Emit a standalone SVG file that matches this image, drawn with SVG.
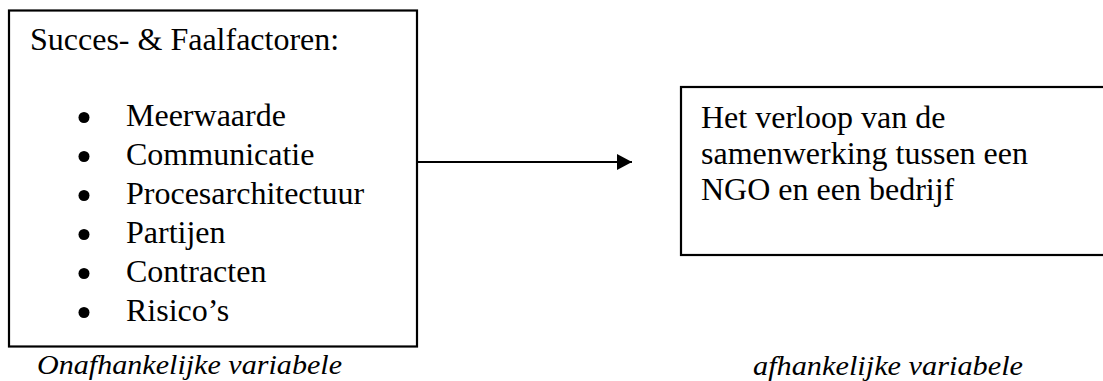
<svg xmlns="http://www.w3.org/2000/svg" width="1103" height="381" viewBox="0 0 1103 381">
<style>
.box{fill:#fff;stroke:#000;stroke-width:2.2}
.t{font-family:'Liberation Serif','Times New Roman',Times,'DejaVu Serif',serif;font-size:32px;fill:#000}
.lbl{font-family:'Liberation Serif','Times New Roman',Times,'DejaVu Serif',serif;font-style:italic;font-size:27px;fill:#000}
.bul{fill:#000}
.conn{stroke:#000;stroke-width:2;fill:none}
</style>
<defs>
<marker id="ah" markerWidth="15" markerHeight="16" refX="15" refY="8" orient="auto" markerUnits="userSpaceOnUse">
<polygon points="0,0 15,8 0,16" fill="#000"/>
</marker>
</defs>
<rect width="1103" height="381" fill="#fff"/>
<g id="connectors">
<line class="conn" x1="418" y1="162" x2="632" y2="162" marker-end="url(#ah)"/>
</g>
<g id="node-factoren">
<rect class="box" x="9" y="10.5" width="408" height="336"/>
<text class="t" x="30" y="50">Succes- &amp; Faalfactoren:</text>
<circle class="bul" cx="84" cy="117.5" r="5.5"/>
<circle class="bul" cx="84" cy="156.5" r="5.5"/>
<circle class="bul" cx="84" cy="195.5" r="5.5"/>
<circle class="bul" cx="84" cy="234.5" r="5.5"/>
<circle class="bul" cx="84" cy="273.5" r="5.5"/>
<circle class="bul" cx="84" cy="312.5" r="5.5"/>
<text class="t" x="126" y="126">Meerwaarde</text>
<text class="t" x="126" y="165">Communicatie</text>
<text class="t" x="126" y="204">Procesarchitectuur</text>
<text class="t" x="126" y="243">Partijen</text>
<text class="t" x="126" y="282">Contracten</text>
<text class="t" x="126" y="321">Risico’s</text>
</g>
<g id="node-verloop">
<rect class="box" x="681" y="87" width="440" height="168"/>
<text class="t" x="701" y="128">Het verloop van de</text>
<text class="t" x="701" y="164">samenwerking tussen een</text>
<text class="t" x="701" y="200">NGO en een bedrijf</text>
</g>
<g id="labels">
<text class="lbl" x="37" y="374" textLength="305" lengthAdjust="spacingAndGlyphs">Onafhankelijke variabele</text>
<text class="lbl" x="753" y="375" textLength="270" lengthAdjust="spacingAndGlyphs">afhankelijke variabele</text>
</g>
</svg>
